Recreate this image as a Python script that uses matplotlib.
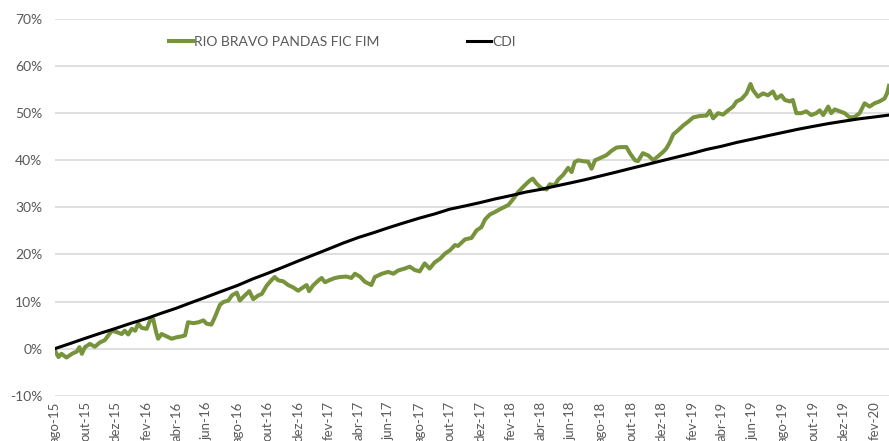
import matplotlib
matplotlib.use("Agg")
import matplotlib.pyplot as plt
import matplotlib.dates as mdates
from matplotlib.ticker import FuncFormatter, MultipleLocator
import pandas as pd

# ---------------- data ----------------
series_names = ["RIO BRAVO PANDAS FIC FIM", "CDI"]

fund_dates = [
    "2015-08-01", "2015-08-08", "2015-08-14", "2015-08-24", "2015-09-04", "2015-09-14",
    "2015-09-19", "2015-09-24", "2015-09-30", "2015-10-10", "2015-10-20", "2015-10-30",
    "2015-11-09", "2015-11-16", "2015-11-23", "2015-12-03", "2015-12-13", "2015-12-19",
    "2015-12-26", "2016-01-02", "2016-01-09", "2016-01-15", "2016-01-22", "2016-02-01",
    "2016-02-08", "2016-02-14", "2016-02-20", "2016-02-24", "2016-03-02", "2016-03-12",
    "2016-03-22", "2016-04-01", "2016-04-11", "2016-04-18", "2016-04-24", "2016-05-05",
    "2016-05-15", "2016-05-25", "2016-05-31", "2016-06-10", "2016-06-17", "2016-06-27",
    "2016-07-04", "2016-07-14", "2016-07-21", "2016-07-31", "2016-08-06", "2016-08-16",
    "2016-08-25", "2016-09-02", "2016-09-12", "2016-09-19", "2016-09-29", "2016-10-09",
    "2016-10-15", "2016-10-22", "2016-11-01", "2016-11-11", "2016-11-21", "2016-12-01",
    "2016-12-11", "2016-12-18", "2016-12-23", "2016-12-31", "2017-01-10", "2017-01-17",
    "2017-01-24", "2017-02-03", "2017-02-13", "2017-02-23", "2017-03-08", "2017-03-18",
    "2017-03-25", "2017-04-04", "2017-04-14", "2017-04-27", "2017-05-04", "2017-05-18",
    "2017-05-31", "2017-06-10", "2017-06-20", "2017-07-03", "2017-07-13", "2017-07-23",
    "2017-08-02", "2017-08-12", "2017-08-22", "2017-09-01", "2017-09-12", "2017-09-22",
    "2017-10-02", "2017-10-12", "2017-10-18", "2017-11-01", "2017-11-14", "2017-11-24",
    "2017-12-04", "2017-12-11", "2017-12-21", "2017-12-31", "2018-01-10", "2018-01-27",
    "2018-02-06", "2018-02-16", "2018-03-01", "2018-03-11", "2018-03-17", "2018-03-24",
    "2018-04-04", "2018-04-14", "2018-04-20", "2018-04-30", "2018-05-07", "2018-05-17",
    "2018-05-27", "2018-06-03", "2018-06-09", "2018-06-16", "2018-06-26", "2018-07-06",
    "2018-07-13", "2018-07-20", "2018-08-02", "2018-08-12", "2018-08-22", "2018-09-01",
    "2018-09-11", "2018-09-21", "2018-09-28", "2018-10-08", "2018-10-14", "2018-10-24",
    "2018-11-04", "2018-11-14", "2018-11-24", "2018-12-04", "2018-12-10", "2018-12-17",
    "2018-12-24", "2019-01-03", "2019-01-13", "2019-01-23", "2019-02-02", "2019-02-15",
    "2019-03-01", "2019-03-07", "2019-03-14", "2019-03-24", "2019-04-03", "2019-04-13",
    "2019-04-23", "2019-04-30", "2019-05-10", "2019-05-20", "2019-05-28", "2019-06-02",
    "2019-06-12", "2019-06-22", "2019-07-02", "2019-07-12", "2019-07-19", "2019-07-29",
    "2019-08-05", "2019-08-15", "2019-08-21", "2019-08-28", "2019-09-07", "2019-09-17",
    "2019-09-27", "2019-10-07", "2019-10-14", "2019-10-21", "2019-10-31", "2019-11-06",
    "2019-11-13", "2019-11-23", "2019-12-03", "2019-12-13", "2019-12-23", "2020-01-02",
    "2020-01-12", "2020-01-22", "2020-02-01", "2020-02-11", "2020-02-21", "2020-02-26",
    "2020-03-01",
]
fund_values = [
    -0.4, -1.8, -1.1, -1.9, -1.1, -0.6,
    0.3, -1.1, 0.3, 1.0, 0.4, 1.3,
    1.8, 2.8, 3.8, 3.5, 3.1, 3.8,
    3.0, 4.2, 3.8, 5.3, 4.4, 4.2,
    6.0, 6.3, 3.5, 2.1, 3.1, 2.6,
    2.1, 2.4, 2.6, 2.8, 5.6, 5.4,
    5.6, 6.0, 5.3, 5.1, 6.7, 9.3,
    9.9, 10.2, 11.3, 11.9, 10.2, 11.3,
    12.2, 10.5, 11.3, 11.6, 13.4, 14.6,
    15.2, 14.5, 14.3, 13.5, 13.0, 12.3,
    13.0, 13.5, 12.2, 13.4, 14.4, 15.0,
    14.1, 14.6, 15.0, 15.2, 15.3, 15.0,
    15.9, 15.3, 14.2, 13.5, 15.2, 15.9,
    16.3, 15.9, 16.6, 17.0, 17.4, 16.7,
    16.4, 18.1, 17.0, 18.3, 19.1, 20.2,
    20.9, 22.0, 21.8, 23.2, 23.5, 25.1,
    25.8, 27.4, 28.5, 29.0, 29.6, 30.5,
    31.8, 33.3, 34.7, 35.7, 36.1, 35.1,
    34.0, 33.8, 34.9, 34.7, 35.9, 36.9,
    38.4, 37.5, 39.6, 40.0, 39.8, 39.7,
    38.2, 40.0, 40.6, 41.1, 42.0, 42.7,
    42.8, 42.8, 41.5, 40.0, 39.8, 41.5,
    41.0, 40.0, 40.9, 41.8, 42.5, 43.8,
    45.5, 46.4, 47.4, 48.2, 49.1, 49.4,
    49.5, 50.5, 48.9, 50.0, 49.7, 50.6,
    51.4, 52.5, 53.0, 54.2, 56.2, 54.9,
    53.5, 54.2, 53.8, 54.6, 53.1, 53.8,
    52.8, 52.5, 52.8, 50.0, 50.0, 50.4,
    49.6, 50.0, 50.6, 49.6, 51.4, 50.0,
    50.8, 50.4, 50.0, 49.1, 49.2, 50.0,
    52.1, 51.4, 52.1, 52.5, 53.1, 54.2,
    55.8,
]

cdi_dates = pd.date_range("2015-08-01", "2020-03-01", freq="MS")
cdi_values = [
    0.0, 1.1, 2.2, 3.3, 4.3, 5.4, 6.4, 7.5, 8.6, 9.8,
    11.0, 12.2, 13.4, 14.8, 16.0, 17.3, 18.6, 19.9, 21.2, 22.4,
    23.6, 24.6, 25.7, 26.7, 27.7, 28.6, 29.6, 30.3, 31.0, 31.8,
    32.5, 33.2, 33.8, 34.5, 35.2, 35.9, 36.7, 37.5, 38.3, 39.1,
    39.9, 40.7, 41.5, 42.3, 43.0, 43.8, 44.5, 45.2, 45.9, 46.6,
    47.2, 47.8, 48.3, 48.8, 49.2, 49.6,
]

tick_dates = pd.date_range("2015-08-01", "2020-02-01", freq="2MS")
tick_labels = [
    "ago-15", "out-15", "dez-15", "fev-16", "abr-16", "jun-16", "ago-16", "out-16",
    "dez-16", "fev-17", "abr-17", "jun-17", "ago-17", "out-17", "dez-17", "fev-18",
    "abr-18", "jun-18", "ago-18", "out-18", "dez-18", "fev-19", "abr-19", "jun-19",
    "ago-19", "out-19", "dez-19", "fev-20",
]

# ---------------- style ----------------
plt.rcParams["font.family"] = ["Lato", "DejaVu Sans"]
GREEN = "#77933C"
TEXT = "#595959"
GRID = "#D9D9D9"

fig = plt.figure(figsize=(8.89, 4.41), dpi=100)
ax = fig.add_axes([55 / 889, 1 - 395.7 / 441, 1 - 55 / 889, (395.7 - 19) / 441])

l1, = ax.plot(pd.to_datetime(fund_dates), fund_values, color=GREEN, lw=2.9,
              solid_joinstyle="round", label=series_names[0], zorder=3)
l2, = ax.plot(cdi_dates, cdi_values, color="black", lw=2.2,
              label=series_names[1], zorder=4)

ax.set_ylim(-10, 70)
ax.set_xlim(pd.Timestamp("2015-08-01"), pd.Timestamp("2020-03-01"))
ax.yaxis.set_major_locator(MultipleLocator(10))
ax.yaxis.set_major_formatter(FuncFormatter(lambda v, p: f"{v:.0f}%"))
ax.set_xticks(tick_dates)
ax.set_xticklabels(tick_labels, rotation=90, va="top", ha="center")

ax.grid(axis="y", color=GRID, lw=1.2, zorder=0)
ax.set_axisbelow(True)
for s in ax.spines.values():
    s.set_visible(False)
ax.tick_params(axis="y", length=0, pad=9, labelsize=10, labelcolor=TEXT)
ax.tick_params(axis="x", length=0, pad=4, labelsize=9.5, labelcolor=TEXT)

leg1 = fig.legend(handles=[l1], loc="center left", bbox_to_anchor=(169 / 889, 1 - 42 / 441),
                  frameon=False, fontsize=10, handlelength=1.75, handletextpad=0.05,
                  borderpad=0, borderaxespad=0, labelcolor=TEXT)
leg2 = fig.legend(handles=[l2], loc="center left", bbox_to_anchor=(467 / 889, 1 - 42 / 441),
                  frameon=False, fontsize=10, handlelength=1.75, handletextpad=0.05,
                  borderpad=0, borderaxespad=0, labelcolor=TEXT)

fig.savefig("out.png", dpi=100)
